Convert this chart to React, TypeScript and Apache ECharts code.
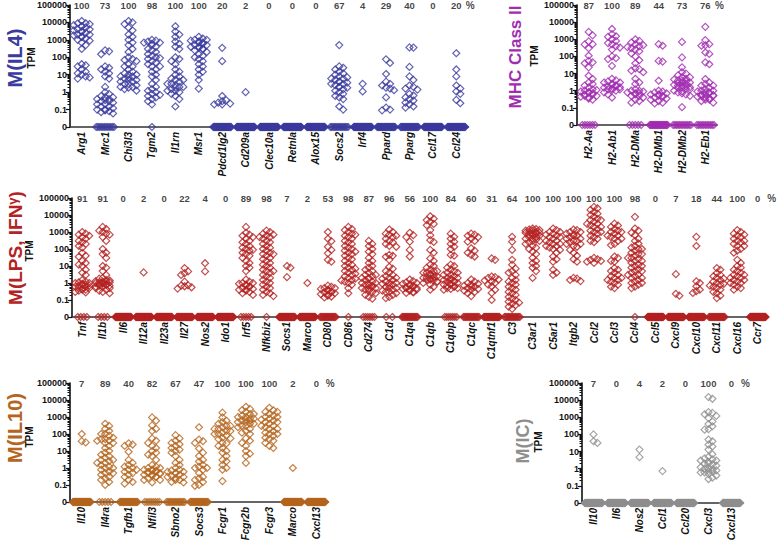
import React, { useEffect, useRef } from 'react';
import * as echarts from 'echarts';

const FONT = "'Liberation Sans', Arial, Helvetica, sans-serif";
const yTickLabels = ['0', '0.1', '1', '10', '100', '1000', '10000', '100000'];

// ---------- M(IL4) ----------
const il4Genes = ['Arg1', 'Mrc1', 'Chi3l3', 'Tgm2', 'Il1rn', 'Msr1', 'Pdcd1lg2', 'Cd209a', 'Clec10a', 'Retnla', 'Alox15', 'Socs2', 'Irf4', 'Ppard', 'Pparg', 'Ccl17', 'Ccl24'];
const il4Pct = [100, 73, 100, 98, 100, 100, 20, 2, 0, 0, 0, 67, 4, 29, 40, 0, 20];
const il4Zeros = [0, 12, 0, 1, 0, 0, 36, 44, 45, 45, 45, 15, 43, 32, 27, 45, 36];
const il4Values = [
  [12000, 9000, 8000, 7000, 6000, 5000, 4000, 3500, 3000, 2500, 2000, 1800, 1500, 1200, 1000, 900, 700, 500, 300, 40, 35, 30, 20, 15, 12, 10, 8, 7, 6, 9000, 6000, 4000, 3000, 2000, 1500],
  [250, 220, 150, 30, 25, 20, 15, 12, 8, 6, 2, 1, 0.8, 0.6, 0.5, 0.4, 0.35, 0.3, 0.25, 0.2, 0.15, 0.12, 0.1, 0.1, 0.09, 0.08, 0.07, 0.06, 0.15, 0.3, 0.4, 0.2, 0.5],
  [12000, 10000, 8000, 5000, 3500, 2000, 1500, 1000, 700, 500, 300, 200, 100, 80, 60, 40, 30, 20, 15, 12, 10, 8, 7, 6, 5, 4, 3, 2.5, 2, 1.5, 1.2, 3, 5, 8, 2, 1.8, 70, 30, 4, 10],
  [1000, 900, 800, 700, 600, 500, 400, 300, 200, 150, 100, 90, 80, 60, 40, 30, 20, 15, 10, 8, 5, 3, 2, 1.5, 1, 0.8, 0.6, 0.4, 0.3, 0.2, 0.7, 1.2, 50, 120, 250, 700, 30, 0.5],
  [6000, 3000, 2000, 1500, 800, 600, 400, 300, 100, 80, 60, 40, 20, 15, 10, 8, 6, 5, 4, 3, 2.5, 2, 1.8, 1.5, 1.2, 1, 0.8, 0.6, 0.4, 0.15, 3, 2, 5, 1.2],
  [1500, 1200, 1000, 900, 800, 700, 600, 500, 400, 350, 300, 250, 200, 150, 120, 100, 80, 60, 40, 30, 20, 15, 10, 5, 1.6, 700, 500, 300, 1000, 400],
  [350, 60, 0.6, 0.35, 0.3, 0.25, 0.22, 0.2, 0.2],
  [1],
  [],
  [],
  [],
  [500, 30, 25, 20, 15, 12, 10, 8, 7, 6, 5, 4, 3.5, 3, 2.5, 2, 2, 1.8, 1.5, 1.2, 1, 0.8, 0.6, 0.5, 0.4, 0.15, 0.1, 3, 4, 6],
  [3, 1.1],
  [76, 47, 11, 4, 2.4, 1.6, 1.8, 1.3, 3, 0.5, 0.13, 0.1, 0.09],
  [370, 360, 28, 8, 5, 2.4, 1.6, 1.4, 0.64, 0.5, 0.33, 0.2, 0.15, 0.13, 0.8, 0.4, 0.25, 2],
  [],
  [170, 20, 8, 2.4, 1.6, 1.1, 0.8, 0.36, 0.23],
];

// ---------- MHC Class II ----------
const mhcGenes = ['H2-Aa', 'H2-Ab1', 'H2-DMa', 'H2-DMb1', 'H2-DMb2', 'H2-Eb1'];
const mhcPct = [87, 100, 89, 44, 73, 76];
const mhcZeros = [6, 0, 5, 25, 12, 11];
const mhcValues = [
  [2700, 1700, 750, 520, 300, 500, 110, 55, 45, 23, 40, 7.5, 4.8, 3, 2.5, 2, 1.5, 1.2, 1, 0.9, 0.8, 0.7, 0.6, 0.5, 0.45, 0.4, 0.35, 0.3, 1.1, 0.8, 0.6, 0.5],
  [4000, 2000, 1500, 1400, 1000, 800, 600, 500, 400, 330, 250, 100, 80, 70, 28, 5, 4, 3.5, 3, 2.5, 2.2, 2, 1.8, 1.6, 1.5, 1.3, 1.2, 1.1, 1, 0.8, 0.6, 0.4, 3, 2, 1.2],
  [1000, 800, 650, 500, 450, 400, 350, 300, 250, 200, 150, 100, 60, 40, 20, 18, 15, 12, 5, 3, 2.5, 1.2, 1, 0.9, 0.8, 0.7, 0.6, 0.5, 0.4, 0.3, 0.25, 0.2, 1, 0.7, 0.5],
  [520, 420, 50, 55, 3.8, 1, 0.9, 0.8, 0.7, 0.6, 0.5, 0.45, 0.4, 0.35, 0.3, 0.25, 0.2, 0.18, 0.6, 0.5],
  [700, 88, 23, 12, 10, 8, 6, 5, 4.5, 4, 3.5, 3, 2.8, 2.5, 2.2, 2, 1.8, 1.6, 1.5, 1.3, 1.2, 1, 0.9, 0.8, 0.7, 0.6, 0.5, 0.11, 4, 3, 2, 1.5, 6],
  [5300, 900, 520, 420, 450, 170, 140, 45, 35, 4.8, 3, 2.5, 2, 1.5, 1.2, 1, 0.9, 0.8, 0.7, 0.6, 0.55, 0.5, 0.45, 0.4, 0.35, 0.3, 0.25, 0.2, 2, 1, 0.6, 0.5, 0.3, 0.8],
];

// ---------- M(LPS, IFNγ) ----------
const lpsGenes = ['Tnf', 'Il1b', 'Il6', 'Il12a', 'Il23a', 'Il27', 'Nos2', 'Ido1', 'Irf5', 'Nfkbiz', 'Socs1', 'Marco', 'CD80', 'CD86', 'Cd274', 'C1d', 'C1qa', 'C1qb', 'C1qbp', 'C1qc', 'C1qtnf1', 'C3', 'C3ar1', 'C5ar1', 'Itgb2', 'Ccl2', 'Ccl3', 'Ccl4', 'Ccl5', 'Cxcl9', 'Cxcl10', 'Cxcl11', 'Cxcl16', 'Ccr7'];
const lpsPct = [91, 91, 0, 2, 0, 22, 4, 0, 89, 98, 7, 2, 53, 98, 87, 96, 56, 100, 84, 60, 31, 64, 100, 100, 100, 100, 100, 98, 0, 7, 18, 44, 100, 0];
const lpsZeros = [4, 4, 45, 44, 45, 35, 43, 45, 5, 1, 42, 44, 21, 1, 6, 2, 20, 0, 7, 18, 31, 16, 0, 0, 0, 0, 0, 1, 45, 42, 37, 25, 0, 45];
const lpsValues = [
  [1000, 800, 700, 600, 500, 400, 300, 250, 200, 150, 120, 60, 40, 35, 20, 15, 12, 10, 6, 4, 3, 1.5, 1.2, 1, 0.9, 0.8, 0.7, 0.6, 0.5, 0.45, 0.4, 0.35, 0.3, 0.28, 1, 0.8, 0.6, 0.5, 0.4, 1.1, 0.7],
  [2000, 1500, 1200, 1000, 800, 700, 500, 300, 100, 60, 50, 30, 10, 8, 5, 3, 2, 1.8, 1.5, 1.2, 1.1, 1, 0.9, 0.8, 0.7, 0.6, 0.5, 0.4, 0.3, 0.25, 1.3, 1.1, 0.9, 0.8, 0.7, 0.6, 1, 1.2, 0.5, 0.35, 1.4],
  [],
  [4.2],
  [],
  [7.5, 4.8, 3.8, 3, 1.2, 0.73, 0.64, 0.56, 0.47, 0.7],
  [14.6, 4.8],
  [],
  [2000, 900, 700, 600, 500, 400, 300, 250, 200, 150, 120, 100, 90, 80, 60, 50, 40, 30, 20, 15, 10, 8, 5, 1.6, 1.2, 1, 0.9, 0.8, 0.7, 0.6, 0.5, 0.45, 0.4, 0.35, 0.3, 0.25, 0.2, 1, 0.6, 0.4],
  [1200, 1000, 800, 700, 600, 500, 400, 300, 250, 200, 150, 120, 100, 80, 60, 50, 40, 30, 25, 20, 15, 12, 10, 8, 6, 5, 4, 3, 2.5, 2, 1.5, 1.2, 1, 0.8, 0.6, 0.5, 0.4, 0.3, 0.25, 0.2, 0.17, 500, 50, 5],
  [8, 10, 2.2],
  [1],
  [1000, 400, 290, 135, 88, 56, 23, 18, 0.7, 0.6, 0.5, 0.45, 0.4, 0.35, 0.3, 0.28, 0.25, 0.22, 0.2, 0.18, 0.16, 0.14, 0.5, 0.3],
  [2000, 1500, 1300, 1000, 800, 600, 500, 400, 300, 250, 200, 150, 120, 100, 80, 60, 50, 40, 30, 25, 20, 15, 12, 10, 8, 6, 5, 4, 3, 2.5, 2, 1.8, 1.5, 1.2, 1, 0.8, 0.5, 0.25, 700, 70, 7, 3.5, 1.4],
  [300, 200, 150, 100, 70, 50, 30, 20, 15, 6, 5, 4, 3, 2.5, 2, 1.8, 1.5, 1.2, 1, 0.9, 0.8, 0.7, 0.6, 0.5, 0.45, 0.4, 0.35, 0.3, 0.25, 0.2, 0.15, 0.12, 3, 2, 1, 0.7, 0.5, 8, 10],
  [1400, 1000, 800, 700, 600, 500, 400, 300, 250, 200, 150, 135, 45, 40, 35, 23, 9, 7, 5, 4, 3, 2.5, 2, 1.8, 1.5, 1.2, 1, 0.9, 0.8, 0.7, 0.6, 0.5, 0.4, 0.35, 0.3, 0.25, 0.2, 0.15, 0.13, 2, 1, 0.5, 0.3],
  [900, 650, 500, 270, 88, 36, 1.6, 1.3, 1.1, 1, 0.9, 0.8, 0.7, 0.6, 0.55, 0.5, 0.45, 0.4, 0.35, 0.3, 0.28, 0.26, 0.7, 0.5, 0.4],
  [8400, 6000, 5000, 4000, 3000, 2500, 1300, 650, 330, 260, 88, 28, 12, 10, 8, 6, 5, 4, 3.5, 3, 2.5, 2.2, 2, 1.8, 1.6, 1.5, 1.2, 1, 0.8, 0.6, 0.4, 5, 4, 3, 2, 1.5, 1.2, 60, 20],
  [800, 520, 400, 270, 200, 135, 100, 45, 40, 12, 10, 8, 6, 5, 4, 3, 2.5, 2, 1.8, 1.5, 1.3, 1.2, 1, 0.9, 0.8, 0.7, 0.6, 0.5, 0.45, 0.4, 3, 2, 1.2, 0.8, 0.6, 0.5, 1.5, 4],
  [800, 700, 600, 500, 400, 300, 270, 110, 80, 60, 45, 36, 1.6, 1.2, 1, 0.9, 0.8, 0.7, 0.6, 0.5, 0.45, 0.4, 0.35, 0.3, 0.25, 0.17, 0.6],
  [28, 23, 2.4, 2, 1.6, 1.4, 1.2, 1, 0.8, 0.64, 0.4, 0.26, 0.1, 2.2],
  [520, 270, 88, 23, 12, 7, 5, 4, 3, 2, 1.5, 1.2, 1, 0.8, 0.6, 0.5, 0.4, 0.3, 0.25, 0.2, 0.15, 0.12, 0.1, 0.08, 0.07, 0.06, 0.05, 0.04, 0.03],
  [1600, 1400, 1300, 1200, 1000, 900, 800, 700, 600, 500, 400, 350, 300, 250, 200, 150, 120, 100, 70, 50, 30, 20, 15, 10, 8, 5, 2, 1500, 1000, 800, 600, 500, 400, 300, 1200, 900],
  [1600, 1300, 1000, 800, 600, 500, 400, 300, 250, 200, 150, 120, 100, 88, 60, 36, 25, 18, 6, 4, 3, 1000, 700, 500, 300, 200, 150],
  [1400, 1300, 1000, 800, 700, 600, 500, 400, 300, 250, 200, 150, 135, 88, 60, 40, 25, 18, 2, 1.8, 1.5, 1.3, 1000, 600, 400, 300, 200],
  [30000, 25000, 20000, 15000, 12000, 10000, 8000, 6000, 5000, 4000, 3000, 2500, 2000, 1500, 1200, 1000, 800, 600, 500, 400, 300, 250, 23, 20, 18, 15, 25, 30, 5000, 3000, 2000, 1000],
  [3100, 2400, 2000, 1500, 1200, 1000, 800, 600, 500, 400, 300, 200, 170, 36, 30, 20, 18, 7.5, 6, 5, 4, 3, 2.5, 2, 1.5, 1.2, 1, 0.8, 0.6, 0.5, 1000, 600, 400, 2, 1.5],
  [7800, 1600, 1200, 900, 650, 400, 300, 210, 150, 120, 100, 80, 60, 50, 40, 30, 25, 20, 15, 12, 10, 8, 6, 5, 4, 3, 2.5, 2, 1.5, 1.2, 1, 0.8, 0.6, 0.5, 20, 10, 5, 3, 2, 1, 100, 50, 30],
  [],
  [3.3, 0.23, 0.18],
  [520, 150, 1.25, 1, 0.64, 0.4, 0.33, 0.26],
  [7.5, 6, 3.8, 3, 2.5, 2, 1.8, 1.5, 1.2, 1, 0.9, 0.8, 0.7, 0.6, 0.5, 0.4, 0.3, 0.25, 0.18, 0.13],
  [1300, 1000, 800, 600, 500, 400, 300, 250, 200, 150, 100, 80, 60, 23, 15, 10, 8, 6, 5, 4, 3, 2.5, 2, 1.5, 1.2, 1, 0.8, 0.6, 0.5, 0.4, 700, 300, 150, 3, 2, 1.5, 1],
  [],
];

// ---------- M(IL10) ----------
const il10Genes = ['Il10', 'Il4ra', 'Tgfb1', 'Nfil3', 'Sbno2', 'Socs3', 'Fcgr1', 'Fcgr2b', 'Fcgr3', 'Marco', 'Cxcl13'];
const il10Pct = [7, 89, 40, 82, 67, 47, 100, 100, 100, 2, 0];
const il10Zeros = [42, 5, 27, 8, 15, 24, 0, 0, 0, 44, 45];
const il10Values = [
  [38, 32, 100],
  [400, 300, 200, 150, 100, 80, 60, 50, 40, 30, 20, 15, 10, 8, 6, 5, 4, 3, 2.5, 2, 1.5, 1.2, 1, 0.8, 0.6, 0.5, 0.4, 0.3, 0.25, 0.2, 0.15, 0.1, 50, 40, 30, 3, 2, 1, 100, 0.5],
  [24, 28, 20, 9, 3, 2, 1.5, 1.2, 1, 0.8, 0.6, 0.5, 0.4, 0.3, 0.2, 0.15, 0.12, 0.8],
  [950, 600, 320, 200, 150, 55, 40, 30, 20, 10, 8, 5, 3, 1.5, 1.2, 1, 0.8, 0.7, 0.6, 0.5, 0.45, 0.4, 0.35, 0.3, 0.25, 0.2, 0.14, 0.6, 0.5, 0.4, 0.7, 0.3, 0.2, 1, 0.8, 6, 15],
  [85, 55, 40, 30, 20, 15, 10, 8, 5, 3, 2, 1.5, 1, 0.8, 0.7, 0.6, 0.5, 0.4, 0.35, 0.3, 0.25, 0.2, 0.15, 0.14, 0.5, 0.3, 0.2, 25, 12, 0.6],
  [250, 47, 38, 30, 14, 8, 5, 3, 2.4, 1.5, 1.2, 1, 0.8, 0.5, 0.3, 0.25, 0.2, 0.15, 0.1, 0.09, 1],
  [1800, 950, 600, 500, 400, 300, 250, 200, 150, 120, 100, 80, 60, 55, 28, 20, 15, 10, 8, 5, 3, 2.5, 1.5, 1, 0.8, 0.17, 300, 200, 150, 100, 50, 30],
  [4000, 3000, 2500, 2000, 1500, 1200, 1000, 800, 700, 600, 500, 400, 300, 250, 200, 150, 120, 100, 55, 40, 30, 20, 10, 7, 5, 2, 1500, 800, 600, 500, 400, 300, 1000],
  [3500, 2500, 2000, 1500, 1200, 1000, 800, 600, 500, 400, 300, 250, 200, 150, 120, 100, 80, 60, 50, 40, 30, 20, 15, 1000, 700, 500, 300, 200, 100, 2000],
  [1],
  [],
];

// ---------- M(IC) ----------
const icGenes = ['Il10', 'Il6', 'Nos2', 'Ccl1', 'Ccl20', 'Cxcl3', 'Cxcl13'];
const icPct = [7, 0, 4, 2, 0, 100, 0];
const icZeros = [42, 45, 43, 44, 45, 0, 45];
const icValues = [
  [40, 32, 100],
  [],
  [13, 4.7],
  [0.73],
  [],
  [15000, 12000, 2000, 1800, 1500, 1200, 900, 560, 400, 300, 200, 190, 50, 40, 25, 20, 13, 7, 5, 4, 3.5, 3, 2.5, 2, 1.8, 1.5, 1.2, 1, 0.9, 0.8, 0.7, 0.6, 0.5, 0.4, 0.3, 0.25, 3, 2, 1, 0.7, 0.6],
  [],
];

const panels = [
  { genes: il4Genes, pct: il4Pct, zeros: il4Zeros, values: il4Values, color: '#3b3b9e', grid: { left: 70, top: 5, width: 398, height: 122 }, title: 'M(IL4)', tx: 15, ty: 58, ts: 20, nx: 31, ny: 58 },
  { genes: mhcGenes, pct: mhcPct, zeros: mhcZeros, values: mhcValues, color: '#a02cb0', grid: { left: 577, top: 5, width: 140, height: 120 }, title: 'MHC Class II', tx: 515, ty: 57, ts: 17, nx: 534, ny: 56 },
  { genes: lpsGenes, pct: lpsPct, zeros: lpsZeros, values: lpsValues, color: '#b42222', grid: { left: 72, top: 198, width: 696, height: 119 }, title: 'M(LPS, IFN{g|γ})', tx: 15, ty: 248, ts: 19, nx: 29, ny: 251 },
  { genes: il10Genes, pct: il10Pct, zeros: il10Zeros, values: il10Values, color: '#b4651e', grid: { left: 70, top: 383, width: 258, height: 119 }, title: 'M(IL10)', tx: 15, ty: 428, ts: 20, nx: 29, ny: 437 },
  { genes: icGenes, pct: icPct, zeros: icZeros, values: icValues, color: '#8e8e8e', grid: { left: 582, top: 383, width: 161, height: 120 }, title: 'M(IC)', tx: 523, ty: 441, ts: 18, nx: 538, ny: 442 },
];

function toAxis(v: number): number {
  return v > 0 ? Math.log10(v) : -2;
}

function swarm(vals: number[]): number[] {
  const cands = [0, 0.17, -0.17, 0.34, -0.34, 0.085, -0.085, 0.255, -0.255, 0.42, -0.42];
  const order = vals.map((v, i) => i).sort((a, b) => vals[b] - vals[a]);
  const placed: { x: number; y: number }[] = [];
  const out = new Array(vals.length).fill(0);
  for (const i of order) {
    const y = Math.log10(vals[i]);
    let best = 0;
    let bestN = Infinity;
    for (const c of cands) {
      let n = 0;
      for (const p of placed) if (Math.abs(p.y - y) < 0.27 && Math.abs(p.x - c) < 0.16) n++;
      if (n < bestN) {
        bestN = n;
        best = c;
        if (n === 0) break;
      }
    }
    placed.push({ x: best, y });
    out[i] = best;
  }
  return out;
}

function zeroSpread(n: number): number[] {
  if (n <= 0) return [];
  if (n === 1) return [0];
  const s = Math.min(0.38, 0.05 + 0.1 * Math.sqrt(n - 1));
  return Array.from({ length: n }, (_, i) => -s + (2 * s * i) / (n - 1));
}

const minorTicks: number[] = [];
for (let d = -1; d <= 4; d++) for (let k = 2; k <= 9; k++) minorTicks.push(d + Math.log10(k));

function buildOption() {
  const option: any = {
    animation: false,
    backgroundColor: '#ffffff',
    grid: [],
    xAxis: [],
    yAxis: [],
    series: [],
    graphic: [],
  };
  panels.forEach((p, k) => {
    const n = p.genes.length;
    option.grid.push({ ...p.grid });
    option.xAxis.push({
      type: 'category',
      gridIndex: k,
      data: p.genes,
      position: 'bottom',
      boundaryGap: true,
      axisLine: { onZero: false, lineStyle: { color: '#333', width: 1.5 } },
      axisTick: { alignWithLabel: true, length: 3, lineStyle: { color: '#333', width: 1 } },
      axisLabel: { rotate: 90, interval: 0, margin: 5, fontFamily: FONT, fontSize: 10, fontWeight: 'bold', fontStyle: 'italic', color: '#111' },
      splitLine: { show: false },
    });
    const valX = option.xAxis.length;
    option.xAxis.push({ type: 'value', gridIndex: k, min: -0.5, max: n - 0.5, show: false, splitLine: { show: false } });
    const yMain = option.yAxis.length;
    option.yAxis.push({
      type: 'value',
      gridIndex: k,
      position: 'left',
      min: -2,
      max: 5,
      interval: 1,
      axisLine: { show: true, onZero: false, lineStyle: { color: '#111', width: 1.6 } },
      axisTick: { show: true, length: 4, lineStyle: { color: '#111', width: 1.2 } },
      axisLabel: { margin: 3, fontFamily: FONT, fontSize: 9, fontWeight: 'bold', color: '#111', formatter: (v: number) => yTickLabels[Math.round(v) + 2] },
      splitLine: { show: false },
    });
    option.yAxis.push({
      type: 'value',
      gridIndex: k,
      position: 'left',
      offset: 0,
      min: -2,
      max: 5,
      axisLine: { show: false, onZero: false },
      axisLabel: { show: false },
      splitLine: { show: false },
      axisTick: { show: true, length: 2.5, customValues: minorTicks, lineStyle: { color: '#111', width: 1 } },
    });

    const pts: number[][] = [];
    p.values.forEach((vals, ci) => {
      const offs = swarm(vals);
      vals.forEach((v, j) => pts.push([ci + offs[j], toAxis(v)]));
      zeroSpread(p.zeros[ci]).forEach((o) => pts.push([ci + o, toAxis(0)]));
    });
    option.series.push({
      type: 'scatter',
      xAxisIndex: valX,
      yAxisIndex: yMain,
      data: pts,
      symbol: 'diamond',
      symbolSize: 7,
      clip: false,
      silent: true,
      itemStyle: { color: 'rgba(255,255,255,0)', borderColor: p.color, borderWidth: 1.2 },
    });
    option.series.push({
      type: 'scatter',
      xAxisIndex: valX,
      yAxisIndex: yMain,
      data: p.pct.map((v, i) => [i, 5, v]),
      symbolSize: 0,
      clip: false,
      silent: true,
      label: { show: true, position: 'inside', formatter: (d: any) => String(d.value[2]), fontFamily: FONT, fontSize: 9.5, fontWeight: 'bold', color: '#111' },
    });
    option.series.push({
      type: 'scatter',
      xAxisIndex: valX,
      yAxisIndex: yMain,
      data: [[n - 1, 5]],
      symbolSize: 0,
      clip: false,
      silent: true,
      label: { show: true, position: 'inside', offset: [14, 0], formatter: '%', fontFamily: FONT, fontSize: 10, fontWeight: 'bold', color: '#111' },
    });
    option.graphic.push({
      type: 'text',
      x: p.tx,
      y: p.ty,
      rotation: Math.PI / 2,
      silent: true,
      style: {
        text: p.title,
        fill: p.color,
        fontFamily: FONT,
        fontSize: p.ts,
        fontWeight: 'bold',
        align: 'center',
        verticalAlign: 'middle',
        rich: { g: { fontSize: 13, fontWeight: 'bold', fontFamily: FONT, fill: p.color, padding: [0, 0, 5, 0] } },
      },
    });
    option.graphic.push({
      type: 'text',
      x: p.nx,
      y: p.ny,
      rotation: Math.PI / 2,
      silent: true,
      style: {
        text: 'TPM',
        fill: '#111',
        fontFamily: FONT,
        fontSize: 10,
        fontWeight: 'bold',
        align: 'center',
        verticalAlign: 'middle',
      },
    });
  });
  return option;
}

export default function App() {
  const ref = useRef<HTMLDivElement>(null);
  useEffect(() => {
    if (!ref.current) return;
    const chart = echarts.init(ref.current, null, { renderer: 'svg' });
    chart.setOption(buildOption());
    return () => chart.dispose();
  }, []);
  return <div ref={ref} style={{ position: 'fixed', left: 0, top: 0, width: 778, height: 547, background: '#fff' }} />;
}
